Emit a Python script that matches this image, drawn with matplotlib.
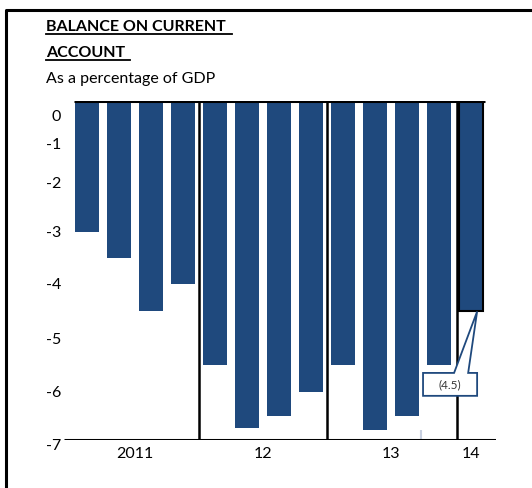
import numpy as np
import matplotlib
matplotlib.use('Agg')
import matplotlib.pyplot as plt
from matplotlib.patches import Polygon
from matplotlib.lines import Line2D

########## data ##########
quarters = np.arange(13)
balance = [-3.0, -3.5, -4.5, -4.0, -5.5, -6.75, -6.5, -6.0, -5.5, -6.8, -6.5, -5.5, -4.5]
year_pos = [1.5, 5.5, 9.5, 12.0]
year_labels = ['2011', '12', '13', '14']
year_breaks = [3.5, 7.5, 11.56]
ytick_vals = [0, -1, -2, -3, -4, -5, -6, -7]
ytick_labels = ['0', '-1', '-2', '-3', '-4', '-5', '-6', '-7']
last_label = '(4.5)'

# the original axis is hand drawn: label spacing is uneven, so map it piecewise
knot_vals = np.array([0, 1, 2, 3, 4, 5, 6, 7], dtype=float)
knot_pix = np.array([101, 144, 183, 232, 284, 339, 392, 440], dtype=float)

def fwd(v):
    return -np.interp(-np.asarray(v, dtype=float), knot_vals, knot_pix)

def inv(u):
    return -np.interp(-np.asarray(u, dtype=float), knot_pix, knot_vals)

plt.rcParams['font.family'] = ['Lato', 'DejaVu Sans']
navy = '#1F497D'

W, H = 532, 488
fig = plt.figure(figsize=(W / 100, H / 100), dpi=100)
ax = fig.add_axes([64 / W, 1 - 440 / H, (496 - 64) / W, (440 - 101) / H])
ax.set_yscale('function', functions=(fwd, inv))

cols = [navy] * 13
edges = ['none'] * 12 + ['black']
ax.bar(quarters, balance, width=0.75, color=cols, edgecolor=edges, linewidth=1.5, zorder=2)

ax.set_xlim(-0.72, 12.78)
ax.set_ylim(-7, 0)

# top and bottom rules, year separators
ax.hlines(0, -0.41, 12.44, color='black', lw=2.2, zorder=3)
ax.hlines(-7, -0.72, 12.78, color='black', lw=2.2, zorder=3)
ax.vlines(year_breaks, -7, 0, color='black', lw=1.8, zorder=3)
ax.vlines(10.44, -7, -6.8, color='#c8d0e0', lw=1.5, zorder=1)

for s in ax.spines.values():
    s.set_visible(False)
ax.set_yticks(ytick_vals)
ax.set_yticklabels(ytick_labels)
ax.set_xticks(year_pos)
ax.set_xticklabels(year_labels)
ax.tick_params(axis='both', length=0, labelsize=11.5, colors='black')
ax.tick_params(axis='y', pad=2)
ax.tick_params(axis='x', pad=5)

# the 0 and -7 labels sit a little below their rules in the original
import matplotlib.transforms as mtrans
for lab in ax.get_yticklabels():
    if lab.get_text() == '0':
        lab.set_transform(lab.get_transform() + mtrans.ScaledTranslation(0, -15 / 100, fig.dpi_scale_trans))
    if lab.get_text() == '-7':
        lab.set_transform(lab.get_transform() + mtrans.ScaledTranslation(0, -5 / 100, fig.dpi_scale_trans))
for lab in ax.get_yticklabels():
    lab.set_horizontalalignment('right')

# callout for the last bar
tip_x = quarters[-1] + 0.19
callout = Polygon([(10.5, -5.64), (11.47, -5.64), (tip_x, balance[-1]), (11.91, -5.64),
                   (12.19, -5.64), (12.19, -6.08), (10.5, -6.08)],
                  closed=True, facecolor='white', edgecolor=navy, lw=1.3, zorder=4)
ax.add_patch(callout)
ax.text(11.34, -5.87, last_label, ha='center', va='center', fontsize=8.5, color='#333333', zorder=5)

# titles with underline
fig.text(46 / W, 1 - 31 / H, 'BALANCE ON CURRENT', fontsize=11.5, fontweight='bold', va='baseline', ha='left')
fig.text(46 / W, 1 - 57 / H, 'ACCOUNT', fontsize=11.5, fontweight='bold', va='baseline', ha='left')
fig.text(46 / W, 1 - 83 / H, 'As a percentage of GDP', fontsize=11.5, va='baseline', ha='left')
fig.add_artist(Line2D([46 / W, 232 / W], [1 - 34 / H] * 2, color='black', lw=1.3))
fig.add_artist(Line2D([46 / W, 130 / W], [1 - 60 / H] * 2, color='black', lw=1.3))

# outer frame (left and top edges visible)
fig.add_artist(Line2D([5.5 / W, 5.5 / W, 1.0], [0.0, 1 - 10 / H, 1 - 10 / H], color='black', lw=2.2))

fig.savefig('out.png', dpi=100)
